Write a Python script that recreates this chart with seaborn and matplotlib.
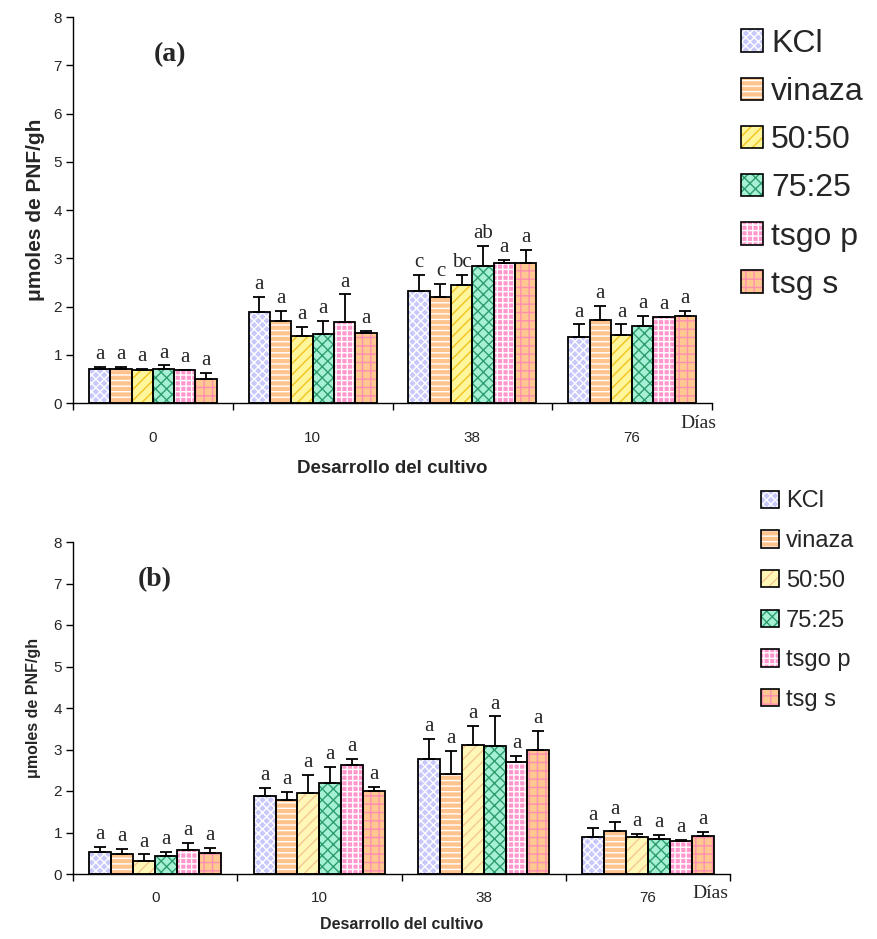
import numpy as np
import pandas as pd
import seaborn as sns
import matplotlib
matplotlib.use("Agg")
import matplotlib.pyplot as plt
from matplotlib.patches import Rectangle, Patch
from matplotlib.legend_handler import HandlerTuple

# ---------------- data ----------------
days = ["0", "10", "38", "76"]
treatments = ["KCl", "vinaza", "50:50", "75:25", "tsgo p", "tsg s"]

# panel (a) means (rows = treatments, columns = days)
a_kcl = [0.71, 1.88, 2.32, 1.37]
a_vinaza = [0.71, 1.70, 2.20, 1.73]
a_5050 = [0.68, 1.39, 2.44, 1.40]
a_7525 = [0.71, 1.42, 2.83, 1.60]
a_tsgop = [0.68, 1.67, 2.91, 1.78]
a_tsgs = [0.50, 1.46, 2.91, 1.81]
# panel (a) upper error
a_kcl_err = [0.04, 0.32, 0.34, 0.26]
a_vinaza_err = [0.04, 0.21, 0.27, 0.29]
a_5050_err = [0.03, 0.19, 0.22, 0.23]
a_7525_err = [0.07, 0.28, 0.42, 0.21]
a_tsgop_err = [0.01, 0.58, 0.06, 0.01]
a_tsgs_err = [0.12, 0.03, 0.27, 0.10]
a_letters = [["a", "a", "c", "a"], ["a", "a", "c", "a"], ["a", "a", "bc", "a"],
             ["a", "a", "ab", "a"], ["a", "a", "a", "a"], ["a", "a", "a", "a"]]

# panel (b)
b_kcl = [0.54, 1.88, 2.77, 0.88]
b_vinaza = [0.47, 1.78, 2.42, 1.04]
b_5050 = [0.31, 1.94, 3.12, 0.88]
b_7525 = [0.43, 2.20, 3.09, 0.85]
b_tsgop = [0.57, 2.62, 2.71, 0.79]
b_tsgs = [0.51, 2.01, 3.00, 0.92]
b_kcl_err = [0.12, 0.19, 0.48, 0.24]
b_vinaza_err = [0.13, 0.20, 0.54, 0.22]
b_5050_err = [0.16, 0.45, 0.45, 0.09]
b_7525_err = [0.11, 0.39, 0.71, 0.10]
b_tsgop_err = [0.18, 0.16, 0.13, 0.03]
b_tsgs_err = [0.12, 0.09, 0.45, 0.09]
b_letters = [["a"] * 4 for _ in range(6)]

yticks = [0, 1, 2, 3, 4, 5, 6, 7, 8]
ylabel = "\u03bcmoles de PNF/gh"
xlabel = "Desarrollo del cultivo"

# ---------------- styles ----------------
face_a = ["#C8C8FA", "#FFC38E", "#FFF59A", "#A6F0D6", "#FF96CC", "#FFC890"]
hatchc_a = ["#FFFFFF", "#FFFFFF", "#F2C21E", "#2E9E6E", "#FFFFFF", "#FF8FB0"]
face_b = ["#C8C8FA", "#FFC38E", "#FFF7B8", "#A6F0D6", "#FF96CC", "#FFC890"]
hatchc_b = ["#FFFFFF", "#FFFFFF", "#F5C88E", "#2E9E6E", "#FFFFFF", "#FF8FB0"]
hatches = ["xxxx", "---", "///", "xxx", "+++", "++"]

W, H = 877, 939
sns.set_theme(style="white")
plt.rcParams["font.family"] = ["Liberation Sans", "DejaVu Sans"]
plt.rcParams["hatch.linewidth"] = 1.0

fig = plt.figure(figsize=(W / 100, H / 100), dpi=100)


def make_df(means, errs, letters):
    rows = []
    for t, m, e, l in zip(treatments, means, errs, letters):
        for d, mv, ev, lv in zip(days, m, e, l):
            rows.append(dict(dia=d, trat=t, val=mv, err=ev, let=lv))
    return pd.DataFrame(rows)


def panel(rect, df, faces, hcols, fs):
    ax = fig.add_axes(rect)
    sns.barplot(data=df, x="dia", y="val", hue="trat", order=days,
                hue_order=treatments, errorbar=None, width=0.8,
                legend=False, ax=ax)
    conts = list(ax.containers)
    for i, cont in enumerate(conts):
        sub = df[df.trat == treatments[i]].set_index("dia").loc[days]
        xs, hs = [], []
        for bar in cont.patches:
            bar.set_facecolor(faces[i])
            bar.set_edgecolor(hcols[i])
            bar.set_hatch(hatches[i])
            bar.set_linewidth(0)
            ax.add_patch(Rectangle((bar.get_x(), bar.get_y()), bar.get_width(),
                                   bar.get_height(), fill=False,
                                   edgecolor="black", lw=1.3, zorder=3))
            xs.append(bar.get_x() + bar.get_width() / 2)
            hs.append(bar.get_height())
        errs = sub["err"].values
        ax.errorbar(xs, hs, yerr=[np.zeros(len(errs)), errs], fmt="none",
                    ecolor="black", elinewidth=1.3, capsize=4.5,
                    capthick=1.3, zorder=4)
        for x, h, e, l in zip(xs, hs, errs, sub["let"].values):
            ax.annotate(l, (x, h + e), xytext=(0, 2), textcoords="offset points",
                        ha="center", va="bottom", fontsize=fs["let"],
                        family="Liberation Serif")
    ax.set_xlim(-0.5, 3.5)
    ax.set_ylim(0, 8)
    ax.set_yticks(yticks)
    ax.set_yticklabels([str(v) for v in yticks], fontsize=fs["tick"])
    ax.set_xticks([-0.5, 0.5, 1.5, 2.5, 3.5])
    ax.set_xticklabels([])
    ax.set_xticks(range(len(days)), minor=True)
    ax.set_xticklabels(days, minor=True, fontsize=fs["tick"])
    ax.tick_params(axis="x", which="minor", length=0, pad=fs["xpad"])
    ax.tick_params(axis="x", which="major", length=5, width=1, direction="out",
                   color="black", bottom=True)
    ax.tick_params(axis="y", length=5, width=1, direction="out", color="black",
                   left=True, pad=3)
    for s in ["top", "right"]:
        ax.spines[s].set_visible(False)
    for s in ["left", "bottom"]:
        ax.spines[s].set_color("black")
        ax.spines[s].set_linewidth(1.0)
    ax.set_xlabel(xlabel, fontsize=fs["xlab"], fontweight="bold",
                  labelpad=fs["xlabpad"])
    ax.set_ylabel(ylabel, fontsize=fs["ylab"], fontweight="bold", labelpad=fs["ylabpad"])
    ax.grid(False)
    return ax


fs_a = dict(let=15, tick=11, xpad=20, xlab=13.5, xlabpad=11, ylab=15, ylabpad=6)
fs_b = dict(let=15, tick=11, xpad=12, xlab=11.5, xlabpad=9, ylab=11.5, ylabpad=9)

ax_a = panel([73 / W, 1 - 403 / H, (712 - 73) / W, (403 - 17) / H],
             make_df([a_kcl, a_vinaza, a_5050, a_7525, a_tsgop, a_tsgs],
                     [a_kcl_err, a_vinaza_err, a_5050_err, a_7525_err, a_tsgop_err, a_tsgs_err],
                     a_letters), face_a, hatchc_a, fs_a)
ax_b = panel([73 / W, 1 - 874 / H, (730 - 73) / W, (874 - 542) / H],
             make_df([b_kcl, b_vinaza, b_5050, b_7525, b_tsgop, b_tsgs],
                     [b_kcl_err, b_vinaza_err, b_5050_err, b_7525_err, b_tsgop_err, b_tsgs_err],
                     b_letters), face_b, hatchc_b, fs_b)

# panel tags and "Días"
fig.text(170 / W, 1 - 55 / H, "(a)", fontsize=20, fontweight="bold",
         family="Liberation Serif", ha="center", va="center")
fig.text(155 / W, 1 - 580 / H, "(b)", fontsize=20, fontweight="bold",
         family="Liberation Serif", ha="center", va="center")
fig.text(680 / W, 1 - 423 / H, "Días", fontsize=14, family="Liberation Serif",
         ha="left", va="center")
fig.text(692 / W, 1 - 893 / H, "Días", fontsize=14, family="Liberation Serif",
         ha="left", va="center")


def handles(faces, hcols):
    hs = []
    for i in range(len(treatments)):
        p1 = Patch(facecolor=faces[i], edgecolor=hcols[i], hatch=hatches[i], lw=0)
        p2 = Patch(facecolor="none", edgecolor="black", lw=1.2)
        hs.append((p1, p2))
    return hs


fig.legend(handles(face_a, hatchc_a), treatments, loc="upper left",
           bbox_to_anchor=(728 / W, 1 - 16 / H), frameon=False, fontsize=23,
           handlelength=0.7, handleheight=0.7, handletextpad=0.25,
           labelspacing=0.57, borderaxespad=0,
           handler_map={tuple: HandlerTuple(ndivide=1, pad=0)})
fig.legend(handles(face_b, hatchc_b), treatments, loc="upper left",
           bbox_to_anchor=(752 / W, 1 - 481 / H), frameon=False, fontsize=17,
           handlelength=0.75, handleheight=0.75, handletextpad=0.3,
           labelspacing=0.75, borderaxespad=0,
           handler_map={tuple: HandlerTuple(ndivide=1, pad=0)})

fig.savefig("out.png", dpi=100)
